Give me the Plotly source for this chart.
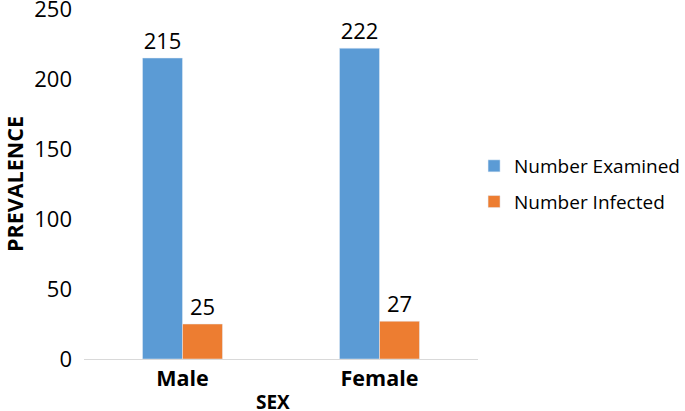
import plotly.graph_objects as go

categories = ["Male", "Female"]
examined = [215, 222]
infected = [25, 27]
series_names = ["Number Examined", "Number Infected"]
y_ticks = [0, 50, 100, 150, 200, 250]

BLUE = "#5B9BD5"
ORANGE = "#ED7D31"
FONT = "Open Sans, Liberation Sans, sans-serif"

fig = go.Figure()
fig.add_trace(go.Bar(
    x=categories, y=examined, name=series_names[0], marker_color=BLUE,
    text=examined, textposition="outside", cliponaxis=False,
    textfont=dict(size=22, color="#000000", family=FONT),
    legendgroup="a",
))
fig.add_trace(go.Bar(
    x=categories, y=infected, name=series_names[1], marker_color=ORANGE,
    text=infected, textposition="outside", cliponaxis=False,
    textfont=dict(size=22, color="#000000", family=FONT),
    legendgroup="b",
))

fig.update_layout(
    width=685, height=411,
    margin=dict(l=83.5, r=207, t=9, b=52, autoexpand=False),
    paper_bgcolor="white", plot_bgcolor="white",
    barmode="group", bargap=0.594, bargroupgap=0,
    font=dict(family=FONT, color="#000000"),
    showlegend=True,
    legend=dict(
        x=0.99, y=0.5, xanchor="left", yanchor="middle",
        font=dict(size=19, family=FONT, color="#000000"),
        tracegroupgap=8, bgcolor="rgba(0,0,0,0)",
    ),
    xaxis=dict(
        automargin=False,
        showline=True, linecolor="#D9D9D9", linewidth=1,
        ticks="", showgrid=False,
        tickfont=dict(size=21.5, family=FONT, color="#000000", weight="bold"),
    ),
    yaxis=dict(
        automargin=False,
        range=[0, 250], tickvals=y_ticks, showgrid=False, zeroline=False,
        showline=False, ticks="", ticklabeloverflow="allow", ticklabelstandoff=11,
        tickfont=dict(size=22, family=FONT, color="#000000"),
        title=dict(text="<b>PREVALENCE</b>", font=dict(size=21.5, family=FONT, color="#000000"), standoff=26),
    ),
    annotations=[dict(
        text="<b>SEX</b>", xref="paper", yref="paper", x=0.48, y=0,
        yshift=-43, xanchor="center", yanchor="middle", showarrow=False,
        font=dict(size=19, family=FONT, color="#000000"),
    )],
)

fig.write_html("out.html", config={"displayModeBar": False},
               post_script="document.body.style.margin='0';")
